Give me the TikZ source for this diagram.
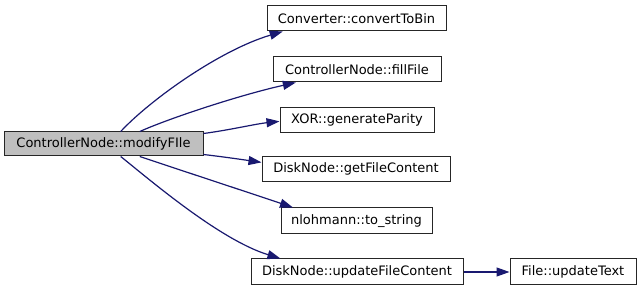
\documentclass[tikz,border=0pt]{standalone}
\usepackage{fontspec}
\setmainfont{DejaVu Sans}
\usetikzlibrary{arrows.meta}
\definecolor{edgeblue}{HTML}{191970}
\definecolor{mainfill}{HTML}{BFBFBF}
\tikzset{
  fn/.style={draw=black!85, line width=1pt, fill=white, inner sep=0pt,
    minimum height=25pt, font=\fontsize{13}{16}\selectfont, text=black},
  callee/.style={fn},
  caller/.style={fn, fill=mainfill, minimum height=24pt},
  call/.style={draw=edgeblue, line width=1.2pt,
    -{Triangle[length=13pt,width=9pt]}}
}
\begin{document}
\begin{tikzpicture}[x=1pt,y=-1pt]
\useasboundingbox (0,0) rectangle (641,291);
\fill[white] (0,0) rectangle (641,291);

\node[caller, minimum width=199pt] (main) at (103.5,144) {ControllerNode::modifyFIle};
\node[callee, minimum width=179pt] (conv) at (356.5,18.5) {Converter::convertToBin};
\node[callee, minimum width=168pt] (fill) at (357,69.5) {ControllerNode::fillFile};
\node[callee, minimum width=154pt] (xor) at (357,120) {XOR::generateParity};
\node[callee, minimum width=188pt] (get) at (356,169) {DiskNode::getFileContent};
\node[callee, minimum width=151pt, minimum height=26pt] (tostr) at (356.5,221) {nlohmann::to\_string};
\node[callee, minimum width=212pt, minimum height=26pt] (upd) at (357,272) {DiskNode::updateFileContent};
\node[callee, minimum width=126pt, minimum height=26pt] (file) at (573,272) {File::updateText};

\draw[call] (main.36) .. controls (150,100) and (220,50) .. (conv.190);
\draw[call] (main.19) .. controls (170,118) and (240,95) .. (fill.192);
\draw[call] (main.6) .. controls (230,130) and (255,124) .. (xor.181);
\draw[call] (main.-6) .. controls (225,157) and (245,160) .. (get.176);
\draw[call] (main.-19) .. controls (180,170) and (250,193) .. (tostr.168);
\draw[call] (main.-36) .. controls (150,180) and (220,240) .. (upd.170);
\draw[call] (upd) -- (file);
\end{tikzpicture}
\end{document}
